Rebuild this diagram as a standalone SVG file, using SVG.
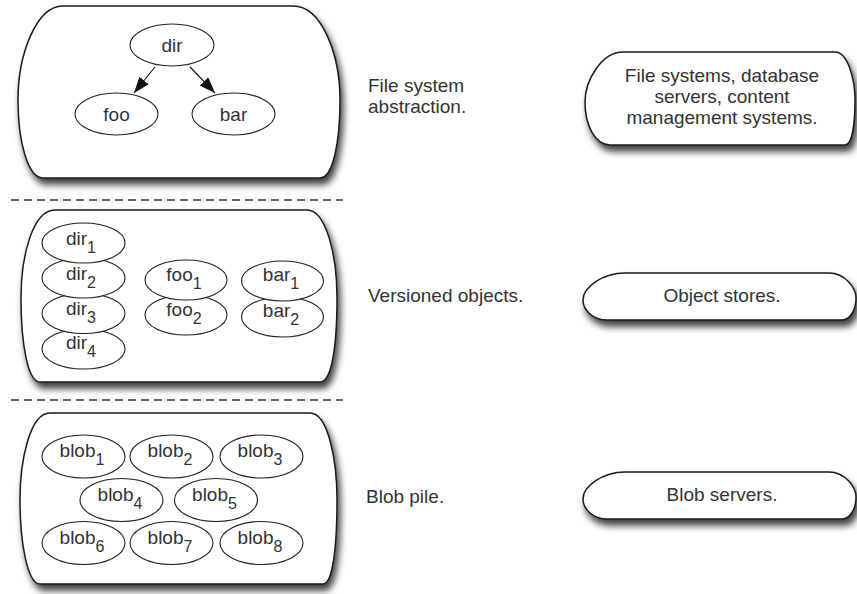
<svg xmlns="http://www.w3.org/2000/svg" width="857" height="594" viewBox="0 0 857 594">
<defs>
<filter id="sh" x="-10%" y="-10%" width="130%" height="150%">
<feDropShadow dx="3" dy="6" stdDeviation="3.5" flood-color="#000" flood-opacity="0.75"/>
</filter>
<marker id="ah" viewBox="0 0 16 12" refX="16" refY="6" markerWidth="16" markerHeight="12" orient="auto" markerUnits="userSpaceOnUse">
<path d="M0,0 L16,6 L0,12 Z" fill="#111"/>
</marker>
<style>
.box{fill:#fff;stroke:#1a1a1a;stroke-width:1.5;filter:url(#sh)}
.el{fill:#fff;stroke:#222;stroke-width:1.1}
text{font-family:"Liberation Sans",Arial,sans-serif;font-size:19px;fill:#333}
.c{text-anchor:middle}
.s{font-size:16px}
.dash{stroke:#333;stroke-width:1.4;stroke-dasharray:8 5;fill:none}
.edge{stroke:#111;stroke-width:1.1;fill:none;marker-end:url(#ah)}
</style>
</defs>
<rect width="857" height="594" fill="#fff"/>

<g id="layer-fs">
<path class="box" d="M63,6 H293 C322,6 340,55 340,100 C340,142 333,178 320,178 H43 C28,178 18,142 18,100 C18,55 36,6 63,6 Z"/>
</g>
<g id="layer-obj">
<path class="box" d="M55,210 H307 C326,210 337,255 337,298 C337,345 332,382 320,382 H40 C28,382 21,345 21,298 C21,255 33,210 55,210 Z"/>
</g>
<g id="layer-blob">
<path class="box" d="M50,413 H310 C328,413 337,460 337,500 C337,545 333,584 323,584 H40 C28,584 20,545 20,500 C20,460 30,413 50,413 Z"/>
</g>

<g id="separators">
<line class="dash" x1="11" y1="200" x2="343" y2="200"/>
<line class="dash" x1="11" y1="400" x2="343" y2="400"/>
</g>

<g id="dir"><ellipse class="el" cx="172" cy="45" rx="42" ry="21"/><text class="c" x="172" y="52">dir</text></g>
<g id="foo"><ellipse class="el" cx="116.5" cy="114" rx="41.5" ry="21"/><text class="c" x="116.5" y="121">foo</text></g>
<g id="bar"><ellipse class="el" cx="233.5" cy="114" rx="41.5" ry="21"/><text class="c" x="233.5" y="121">bar</text></g>

<g id="connectors">
<path class="edge" d="M155,67 L134,93"/>
<path class="edge" d="M190,67 L215,93"/>
</g>

<g id="dir4"><ellipse class="el" cx="83.5" cy="349" rx="41.5" ry="20"/><text class="c" x="81" y="349">dir<tspan class="s" dy="8">4</tspan></text></g>
<g id="dir3"><ellipse class="el" cx="83.5" cy="313.5" rx="41.5" ry="20"/><text class="c" x="81" y="315">dir<tspan class="s" dy="8">3</tspan></text></g>
<g id="dir2"><ellipse class="el" cx="83.5" cy="278" rx="41.5" ry="20"/><text class="c" x="81" y="280">dir<tspan class="s" dy="8">2</tspan></text></g>
<g id="dir1"><ellipse class="el" cx="83.5" cy="243" rx="41.5" ry="20"/><text class="c" x="81" y="245">dir<tspan class="s" dy="8">1</tspan></text></g>

<g id="foo2"><ellipse class="el" cx="186" cy="315" rx="41" ry="20"/><text class="c" x="184" y="316">foo<tspan class="s" dy="8">2</tspan></text></g>
<g id="foo1"><ellipse class="el" cx="186" cy="280" rx="41" ry="20"/><text class="c" x="184" y="281">foo<tspan class="s" dy="8">1</tspan></text></g>
<g id="bar2"><ellipse class="el" cx="282.5" cy="317" rx="41" ry="20"/><text class="c" x="281" y="317">bar<tspan class="s" dy="8">2</tspan></text></g>
<g id="bar1"><ellipse class="el" cx="282.5" cy="281" rx="41" ry="20"/><text class="c" x="281" y="281">bar<tspan class="s" dy="8">1</tspan></text></g>

<g id="blob1"><ellipse class="el" cx="83.5" cy="456.5" rx="41.5" ry="21.5"/><text class="c" x="82" y="457">blob<tspan class="s" dy="8">1</tspan></text></g>
<g id="blob2"><ellipse class="el" cx="171.5" cy="456.5" rx="41.5" ry="21.5"/><text class="c" x="170" y="457">blob<tspan class="s" dy="8">2</tspan></text></g>
<g id="blob3"><ellipse class="el" cx="261.5" cy="456.5" rx="41.5" ry="21.5"/><text class="c" x="260" y="457">blob<tspan class="s" dy="8">3</tspan></text></g>
<g id="blob4"><ellipse class="el" cx="121.5" cy="500" rx="41.5" ry="21.5"/><text class="c" x="120" y="500.5">blob<tspan class="s" dy="8">4</tspan></text></g>
<g id="blob5"><ellipse class="el" cx="216" cy="500" rx="41.5" ry="21.5"/><text class="c" x="214.5" y="500.5">blob<tspan class="s" dy="8">5</tspan></text></g>
<g id="blob6"><ellipse class="el" cx="83.5" cy="543" rx="41.5" ry="21.5"/><text class="c" x="82" y="543.5">blob<tspan class="s" dy="8">6</tspan></text></g>
<g id="blob7"><ellipse class="el" cx="171.5" cy="543" rx="41.5" ry="21.5"/><text class="c" x="170" y="543.5">blob<tspan class="s" dy="8">7</tspan></text></g>
<g id="blob8"><ellipse class="el" cx="261.5" cy="543" rx="41.5" ry="21.5"/><text class="c" x="260" y="543.5">blob<tspan class="s" dy="8">8</tspan></text></g>

<g id="label-fs"><text x="368" y="92">File system</text><text x="368" y="113">abstraction.</text></g>
<g id="label-obj"><text x="368" y="302">Versioned objects.</text></g>
<g id="label-blob"><text x="366" y="503">Blob pile.</text></g>

<g id="impl-fs">
<path class="box" d="M623,52 H835 C848,52 855,80 855,100 C855,125 852,145 845,145 H610 C595,145 585,125 585,102 C585,80 602,52 623,52 Z"/>
<text class="c" x="722" y="82">File systems, database</text>
<text class="c" x="722" y="103">servers, content</text>
<text class="c" x="722" y="124">management systems.</text>
</g>
<g id="impl-obj">
<path class="box" d="M625,273 H829 C845,273 856,288 856,298 C856,310 850,320 842,320 H607 C593,320 583,310 583,300 C583,287 603,273 625,273 Z"/>
<text class="c" x="722" y="302">Object stores.</text>
</g>
<g id="impl-blob">
<path class="box" d="M625,472 H829 C845,472 856,487 856,497 C856,509 850,519 842,519 H607 C593,519 583,509 583,499 C583,486 603,472 625,472 Z"/>
<text class="c" x="722" y="501">Blob servers.</text>
</g>
</svg>
